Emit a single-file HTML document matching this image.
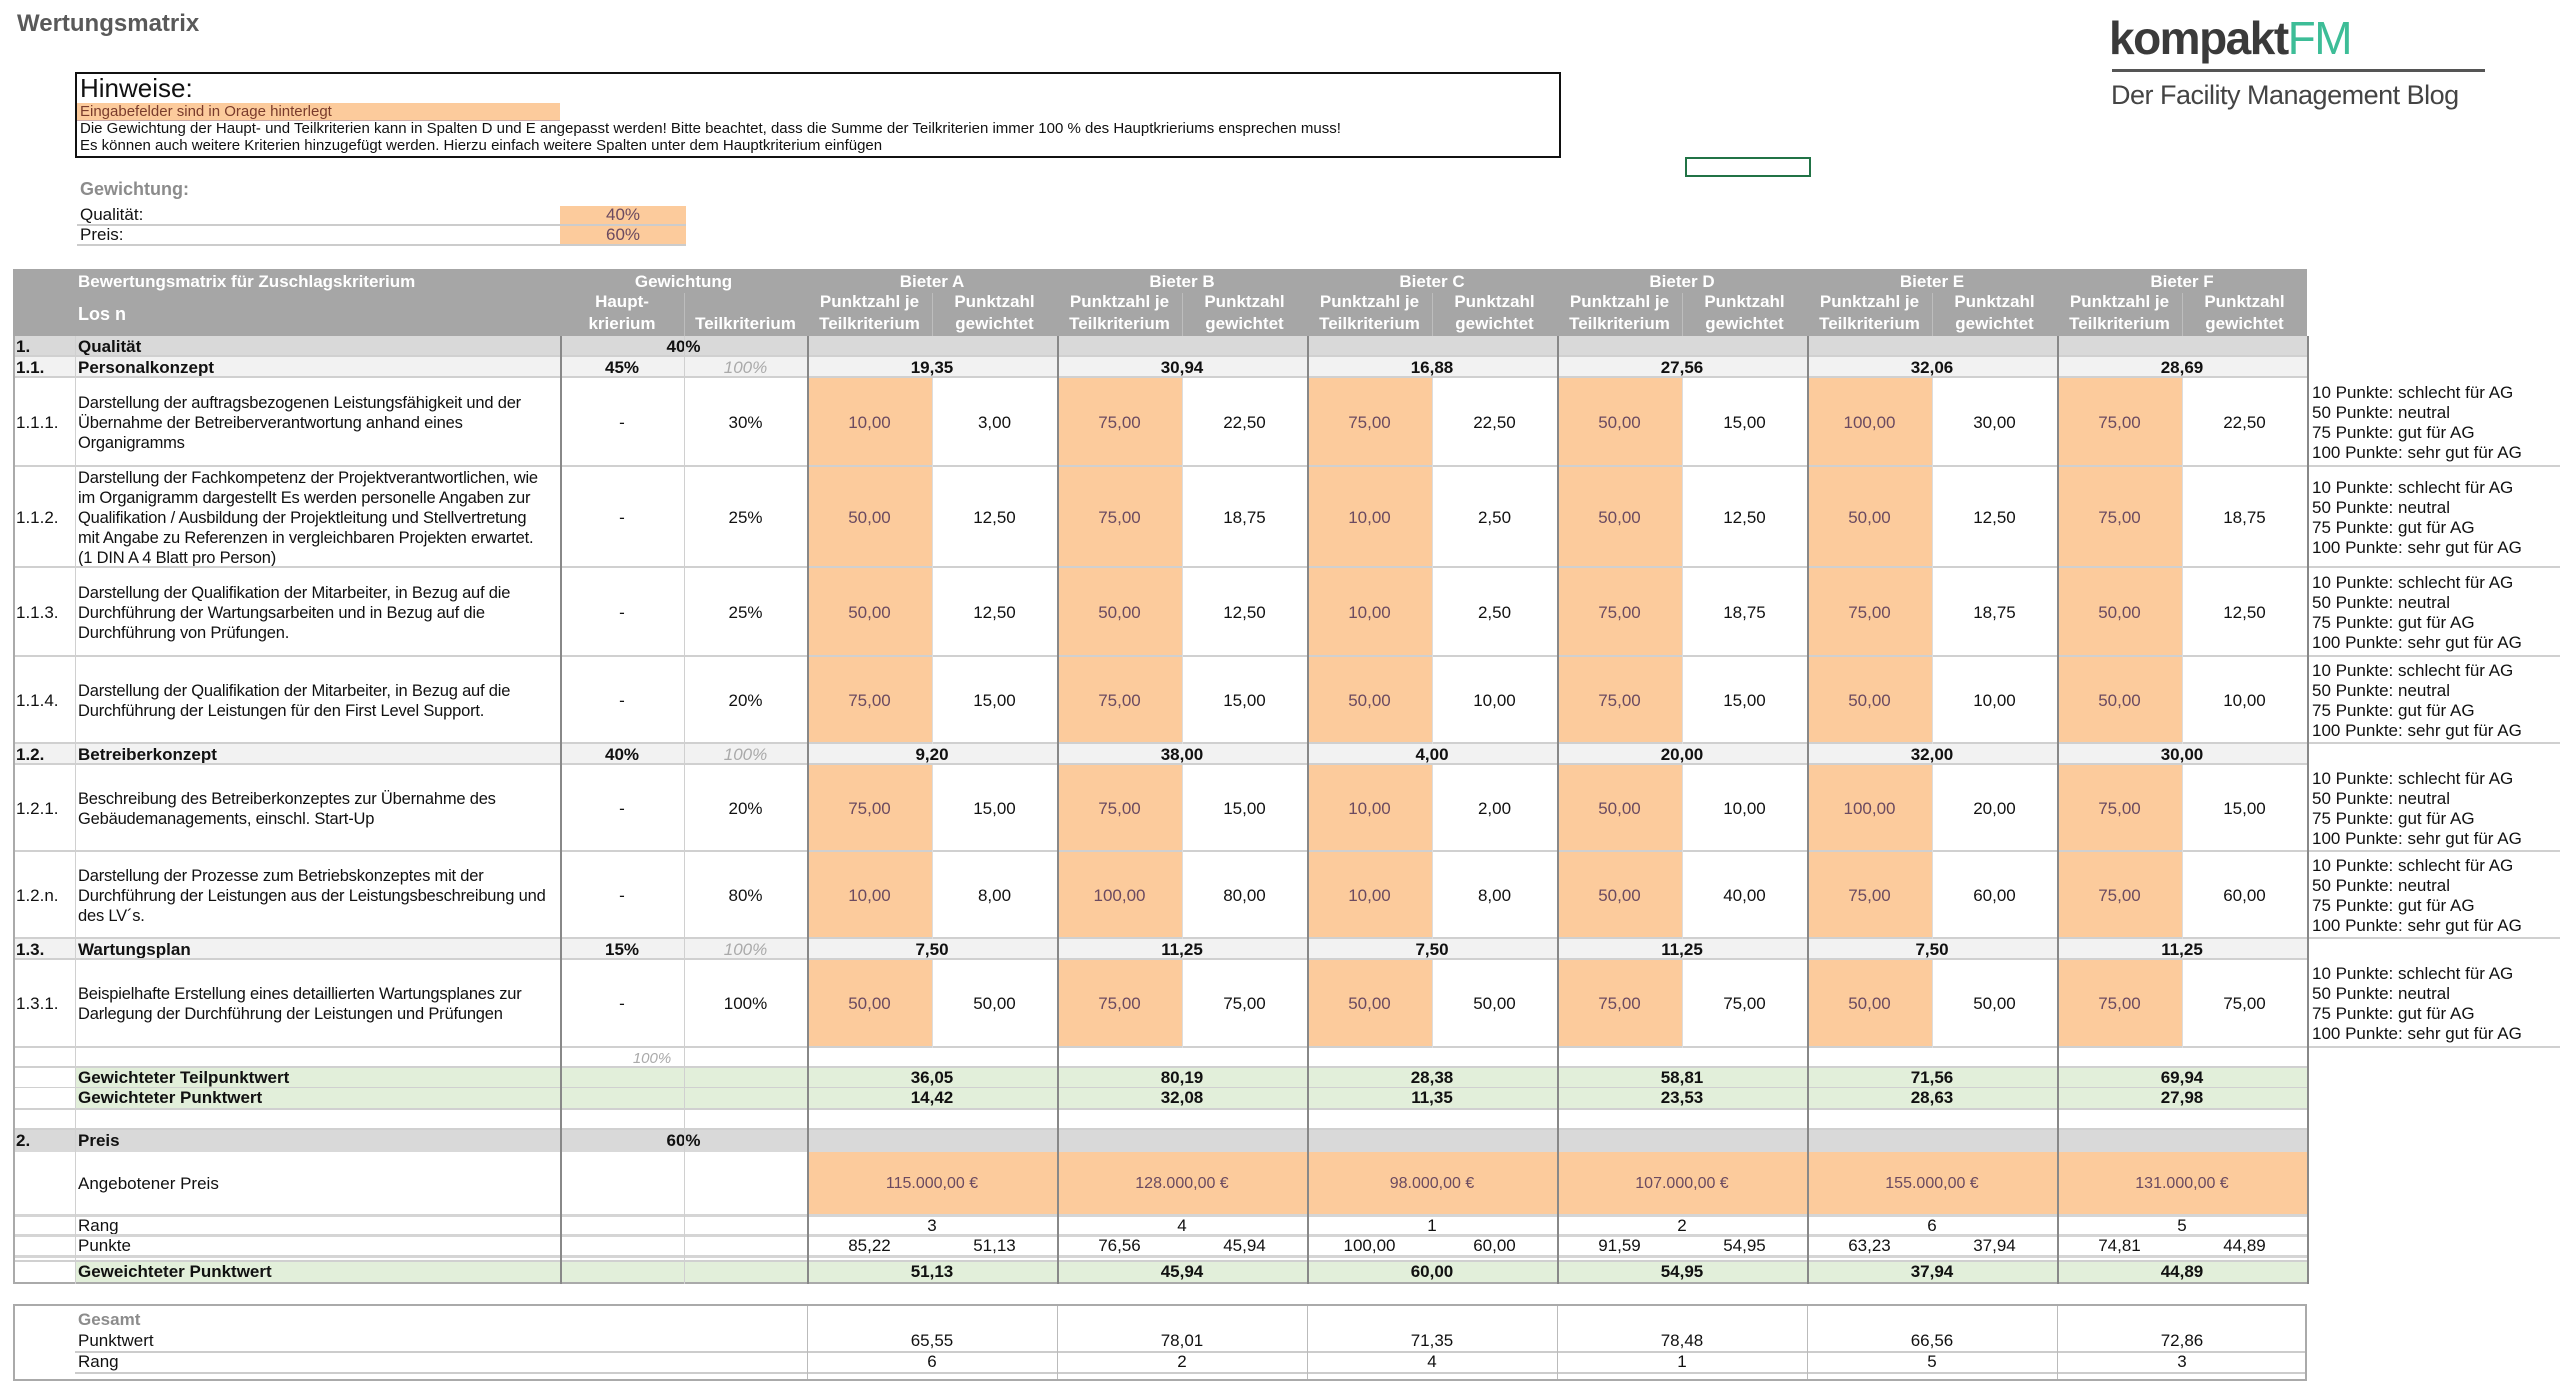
<!DOCTYPE html>
<html><head><meta charset="utf-8"><style>
html,body{margin:0;padding:0;width:2560px;height:1387px;overflow:hidden;background:#fff}
body{position:relative;font-family:"Liberation Sans Narrow","Liberation Sans",sans-serif;color:#111;font-size:17px}
.c{position:absolute;box-sizing:border-box;display:flex;align-items:center;justify-content:center;white-space:nowrap;overflow:visible}
.l{justify-content:flex-start;padding-left:3px}
.b{font-weight:bold}
</style></head><body>
<div class="c l b" style="left:14px;top:8px;height:32px;font-size:24px;color:#595959">Wertungsmatrix</div>
<div style="position:absolute;left:75px;top:72px;width:1486px;height:86px;border:2px solid #111;box-sizing:border-box"></div>
<div class="c l" style="left:77px;top:74px;height:28px;font-size:26px">Hinweise:</div>
<div class="c l" style="left:77px;top:103px;width:483px;height:18px;background:#fccb9c;color:#7a3c2c;font-size:15px;border-bottom:1px solid #caa">Eingabefelder sind in Orage hinterlegt</div>
<div class="c l" style="left:77px;top:119px;height:18px;font-size:15px">Die Gewichtung der Haupt- und Teilkriterien kann in Spalten D und E angepasst werden! Bitte beachtet, dass die Summe der Teilkriterien immer 100 % des Hauptkrieriums ensprechen muss!</div>
<div class="c l" style="left:77px;top:136px;height:18px;font-size:15px">Es können auch weitere Kriterien hinzugefügt werden. Hierzu einfach weitere Spalten unter dem Hauptkriterium einfügen</div>
<div class="c l b" style="left:77px;top:178px;height:22px;font-size:18px;color:#8c8c8c">Gewichtung:</div>
<div class="c l" style="left:77px;top:206px;width:483px;height:20px;border-bottom:2px solid #ccc">Qualität:</div>
<div class="c" style="left:560px;top:206px;width:126px;height:20px;background:#fccb9c;color:#6b4a60;border-bottom:2px solid #ccc">40%</div>
<div class="c l" style="left:77px;top:226px;width:483px;height:20px;border-bottom:2px solid #ccc">Preis:</div>
<div class="c" style="left:560px;top:226px;width:126px;height:20px;background:#fccb9c;color:#6b4a60;border-bottom:2px solid #ccc">60%</div>
<div style="position:absolute;left:1685px;top:157px;width:126px;height:20px;border:2px solid #217346;box-sizing:border-box"></div>
<div class="c l" style="left:2106px;top:12px;height:52px;font-family:'Liberation Sans',sans-serif;font-size:46px;font-weight:bold;letter-spacing:-1.5px;color:#3a3a3a">kompakt<span style="color:#3dbd97;font-weight:normal">FM</span></div>
<div style="position:absolute;left:2112px;top:69px;width:373px;height:3px;background:#555"></div>
<div class="c l" style="left:2108px;top:78px;height:34px;font-family:'Liberation Sans',sans-serif;font-size:27px;letter-spacing:-0.5px;color:#444">Der Facility Management Blog</div>
<div id="grid"></div>
<script>
const bidders=["Bieter A","Bieter B","Bieter C","Bieter D","Bieter E","Bieter F"];
const items=["1.1.1.","1.1.2.","1.1.3.","1.1.4.","1.2.1.","1.2.n.","1.3.1."];
const itemWeights=["30%","25%","25%","20%","20%","80%","100%"];
const scoreA=[10,50,50,75,75,10,50];
const scoreB=[75,75,50,75,75,100,75];
const scoreC=[75,10,10,50,10,10,50];
const scoreD=[50,50,75,75,50,50,75];
const scoreE=[100,50,75,50,100,75,50];
const scoreF=[75,75,50,50,75,75,75];
const weightedA=[3.00,12.50,12.50,15.00,15.00,8.00,50.00];
const weightedB=[22.50,18.75,12.50,15.00,15.00,80.00,75.00];
const weightedC=[22.50,2.50,2.50,10.00,2.00,8.00,50.00];
const weightedD=[15.00,12.50,18.75,15.00,10.00,40.00,75.00];
const weightedE=[30.00,12.50,18.75,10.00,20.00,60.00,50.00];
const weightedF=[22.50,18.75,12.50,10.00,15.00,60.00,75.00];
const total11=[19.35,30.94,16.88,27.56,32.06,28.69];
const total12=[9.20,38.00,4.00,20.00,32.00,30.00];
const total13=[7.50,11.25,7.50,11.25,7.50,11.25];
const teilpunktwert=[36.05,80.19,28.38,58.81,71.56,69.94];
const punktwertQ=[14.42,32.08,11.35,23.53,28.63,27.98];
const prices=[115000,128000,98000,107000,155000,131000];
const priceRank=[3,4,1,2,6,5];
const pricePoints=[85.22,76.56,100.00,91.59,63.23,74.81];
const priceWeighted=[51.13,45.94,60.00,54.95,37.94,44.89];
const totalScore=[65.55,78.01,71.35,78.48,66.56,72.86];
const totalRank=[6,2,4,1,5,3];
const descs=[
["Darstellung der auftragsbezogenen Leistungsfähigkeit und der","Übernahme der Betreiberverantwortung anhand eines","Organigramms"],
["Darstellung der Fachkompetenz der Projektverantwortlichen, wie","im Organigramm dargestellt Es werden personelle Angaben zur","Qualifikation / Ausbildung der Projektleitung und Stellvertretung","mit Angabe zu Referenzen in vergleichbaren Projekten erwartet.","(1 DIN A 4 Blatt pro Person)"],
["Darstellung der Qualifikation der Mitarbeiter, in Bezug auf die","Durchführung der Wartungsarbeiten und in Bezug auf die","Durchführung von Prüfungen."],
["Darstellung der Qualifikation der Mitarbeiter, in Bezug auf die","Durchführung der Leistungen für den First Level Support."],
["Beschreibung des Betreiberkonzeptes zur Übernahme des","Gebäudemanagements, einschl. Start-Up"],
["Darstellung der Prozesse zum Betriebskonzeptes mit der","Durchführung der Leistungen aus der Leistungsbeschreibung und","des LV´s."],
["Beispielhafte Erstellung eines detaillierten Wartungsplanes zur","Darlegung der Durchführung der Leistungen und Prüfungen"]];
const scores=[scoreA,scoreB,scoreC,scoreD,scoreE,scoreF];
const weighted=[weightedA,weightedB,weightedC,weightedD,weightedE,weightedF];

const X0=13,X1=75,X2=560,X3=684,X4=807,BW=250,XE=2307;
const bx=i=>X4+i*BW;
const fmt=v=>v.toFixed(2).replace('.',',');
const eur=v=>v.toLocaleString('de-DE',{minimumFractionDigits:2})+' €';
const G=document.getElementById('grid');
function cell(x,y,w,h,txt,name,st,cls){
  const el=document.createElement('div');
  el.className='c '+(cls||'');
  el.style.cssText=`left:${x}px;top:${y}px;width:${w}px;height:${h}px;`+(st||'');
  el.innerHTML=txt;
  
  
  G.appendChild(el);return el;
}
function icell(x,y,w,h,txt,name,st){
  const el=cell(x,y,w,h,txt,name,st);
  
  return el;
}
function line(x,y,w,h,c,name){
  const el=document.createElement('div');
  el.style.cssText=`position:absolute;left:${x}px;top:${y}px;width:${w}px;height:${h}px;background:${c}`;
  
  
  G.appendChild(el);
}
cell(X0,269,XE-X0,67,'','header-band','background:#a6a6a6');
const hw='color:#fff;font-weight:bold;';
cell(X1,271,400,22,'Bewertungsmatrix für Zuschlagskriterium','header-title',hw,'l');
cell(X1,300,200,28,'Los n','header-los',hw+'font-size:18px','l');
cell(X2,271,X4-X2,22,'Gewichtung','header-gewichtung',hw);
cell(X2,291,X3-X2,44,'Haupt-<br>krierium','header-haupt',hw+'line-height:22px;text-align:center');
cell(X3,291,X4-X3,44,'<br>Teilkriterium','header-teil',hw+'line-height:22px;text-align:center');
line(X3,293,1,43,'#bdbdbd','header-divider');
bidders.forEach((b,i)=>{
  cell(bx(i),271,BW,22,b,'header-bidder-'+i,hw);
  cell(bx(i),291,125,44,'Punktzahl je<br>Teilkriterium','header-score-'+i,hw+'line-height:22px;text-align:center');
  cell(bx(i)+125,291,125,44,'Punktzahl<br>gewichtet','header-weighted-'+i,hw+'line-height:22px;text-align:center');
  line(bx(i)+125,293,1,43,'#bdbdbd','header-divider-'+i);
});
function section(y,h,num,title,bg,wt,name){
  cell(X0,y,XE-X0,h,'',name+'-bg','background:'+bg);
  cell(X0,y,X1-X0,h,num,name+'-num','font-weight:bold','l');
  cell(X1,y,X2-X1,h,title,name+'-title','font-weight:bold','l');
  cell(X2,y,X4-X2,h,wt,name+'-weight','font-weight:bold');
}
section(336,21,'1.','Qualität','#d9d9d9','40%','sec-qualitaet');
function sub(y,num,title,wt,tot,name){
  cell(X0,y,XE-X0,21,'',name+'-bg','background:#f2f2f2');
  cell(X0,y,X1-X0,21,num,name+'-num','font-weight:bold','l');
  cell(X1,y,X2-X1,21,title,name+'-title','font-weight:bold','l');
  cell(X2,y,X3-X2,21,wt,name+'-weight','font-weight:bold');
  cell(X3,y,X4-X3,21,'100%',name+'-teil','color:#aaa;font-style:italic');
  tot.forEach((v,i)=>cell(bx(i),y,BW,21,fmt(v),name+'-total-'+i,'font-weight:bold'));
}
const rowY=[[378,89],[467,101],[568,89],[657,87],[765,87],[852,87],[960,88]];
sub(357,'1.1.','Personalkonzept','45%',total11,'sub-personal');
sub(744,'1.2.','Betreiberkonzept','40%',total12,'sub-betreiber');
sub(939,'1.3.','Wartungsplan','15%',total13,'sub-wartung');
items.forEach((it,k)=>{
  const [y,h]=rowY[k];
  cell(X0,y,X1-X0,h,it,'item-num-'+k,'','l');
  cell(X1,y,X2-X1,h,descs[k].join('<br>'),'item-desc-'+k,'line-height:20px;font-size:16.5px;letter-spacing:-0.2px','l');
  cell(X2,y,X3-X2,h,'-','item-haupt-'+k);
  cell(X3,y,X4-X3,h,itemWeights[k],'item-weight-'+k);
  for(let i=0;i<6;i++){
    icell(bx(i),y,125,h,fmt(scores[i][k]),'score-'+k+'-'+i,'background:#fccb9c;color:#6b4a60');
    cell(bx(i)+125,y,125,h,fmt(weighted[i][k]),'weighted-'+k+'-'+i);
  }
  cell(XE+2,y,250,h,'10 Punkte: schlecht für AG<br>50 Punkte: neutral<br>75 Punkte: gut für AG<br>100 Punkte: sehr gut für AG','note-'+k,'line-height:20px','l');
  line(XE,y+h-2,2560-XE,2,'#d0d0d0','note-rule-'+k);
  line(X0,y+h-2,XE-X0,2,'#d0d0d0','row-rule-'+k);
});
[357,744,939].forEach((y,k)=>{line(X0,y-2,XE-X0,2,'#d0d0d0','sub-top-'+k);line(X0,y+19,XE-X0,2,'#d0d0d0','sub-bot-'+k);});
cell(X2,1048,X3-X2+60,20,'100%','sum-100','color:#aaa;font-style:italic;font-size:15px');
line(X0,1066,XE-X0,2,'#d0d0d0','rule-sum');
function green(y,h,title,vals,name){
  cell(X1,y,XE-X1,h,'',name+'-bg','background:#e2efda');
  cell(X1,y,X2-X1,h,title,name+'-title','font-weight:bold','l');
  vals.forEach((v,i)=>cell(bx(i),y,BW,h,fmt(v),name+'-'+i,'font-weight:bold'));
}
green(1068,20,'Gewichteter Teilpunktwert',teilpunktwert,'teilpunktwert');
green(1088,20,'Gewichteter Punktwert',punktwertQ,'punktwert-q');
line(X0,1087,XE-X0,1,'#d0d0d0','rule-g1');
line(X0,1108,XE-X0,2,'#d0d0d0','rule-g2');
section(1129,23,'2.','Preis','#d9d9d9','60%','sec-preis');
line(X0,1128,XE-X0,2,'#d0d0d0','rule-p0');
cell(X1,1152,X2-X1,63,'Angebotener Preis','price-label','','l');
prices.forEach((v,i)=>icell(bx(i),1152,BW,63,eur(v),'price-'+i,'background:#fccb9c;color:#6b4a60;font-size:16px'));
line(X0,1214,XE-X0,3,'#d5d5d5','rule-p1');
cell(X1,1216,X2-X1,19,'Rang','rang-label','','l');
priceRank.forEach((v,i)=>cell(bx(i),1216,BW,19,v,'price-rank-'+i));
line(X0,1234,XE-X0,3,'#d5d5d5','rule-p2');
cell(X1,1236,X2-X1,20,'Punkte','punkte-label','','l');
pricePoints.forEach((v,i)=>{cell(bx(i),1236,125,20,fmt(v),'price-points-'+i);cell(bx(i)+125,1236,125,20,fmt(priceWeighted[i]),'price-points-w-'+i);});
line(X0,1255,XE-X0,3,'#d5d5d5','rule-p3');
green(1261,22,'Geweichteter Punktwert',priceWeighted,'punktwert-p');
line(X0,1260,XE-X0,2,'#d0d0d0','rule-p4');
line(X0,1282,XE-X0,2,'#aaa','rule-p5');
[[X0,'#aaa'],[X1,'#d0d0d0'],[X2,'#888'],[X3,'#d0d0d0'],[XE,'#888']].forEach(([x,c],k)=>line(x,336,k==1||k==3?1:2,1284-336,c,'vline-'+k));
for(let i=0;i<6;i++){line(bx(i),336,2,1284-336,'#888','vline-b-'+i);}
items.forEach((it,k)=>{const [y,h]=rowY[k];for(let i=0;i<6;i++)line(bx(i)+125,y,1,h,'#ddd','vline-s-'+k+'-'+i);});
cell(X0,1304,XE-X0,77,'','gesamt-box','border:2px solid #aaa;background:#fff');
cell(X1,1309,200,22,'Gesamt','gesamt-title','font-weight:bold;color:#8c8c8c','l');
cell(X1,1331,200,20,'Punktwert','gesamt-punktwert-label','','l');
cell(X1,1352,200,20,'Rang','gesamt-rang-label','','l');
line(X1,1351,XE-X1-2,2,'#ccc','gesamt-rule-1');
line(X1,1372,XE-X1-2,2,'#ccc','gesamt-rule-2');
for(let i=0;i<6;i++){
  line(bx(i),1306,1,73,'#bbb','gesamt-vline-'+i);
  cell(bx(i),1331,BW,20,fmt(totalScore[i]),'gesamt-score-'+i);
  cell(bx(i),1352,BW,20,totalRank[i],'gesamt-rank-'+i);
}
</script>
</body></html>
